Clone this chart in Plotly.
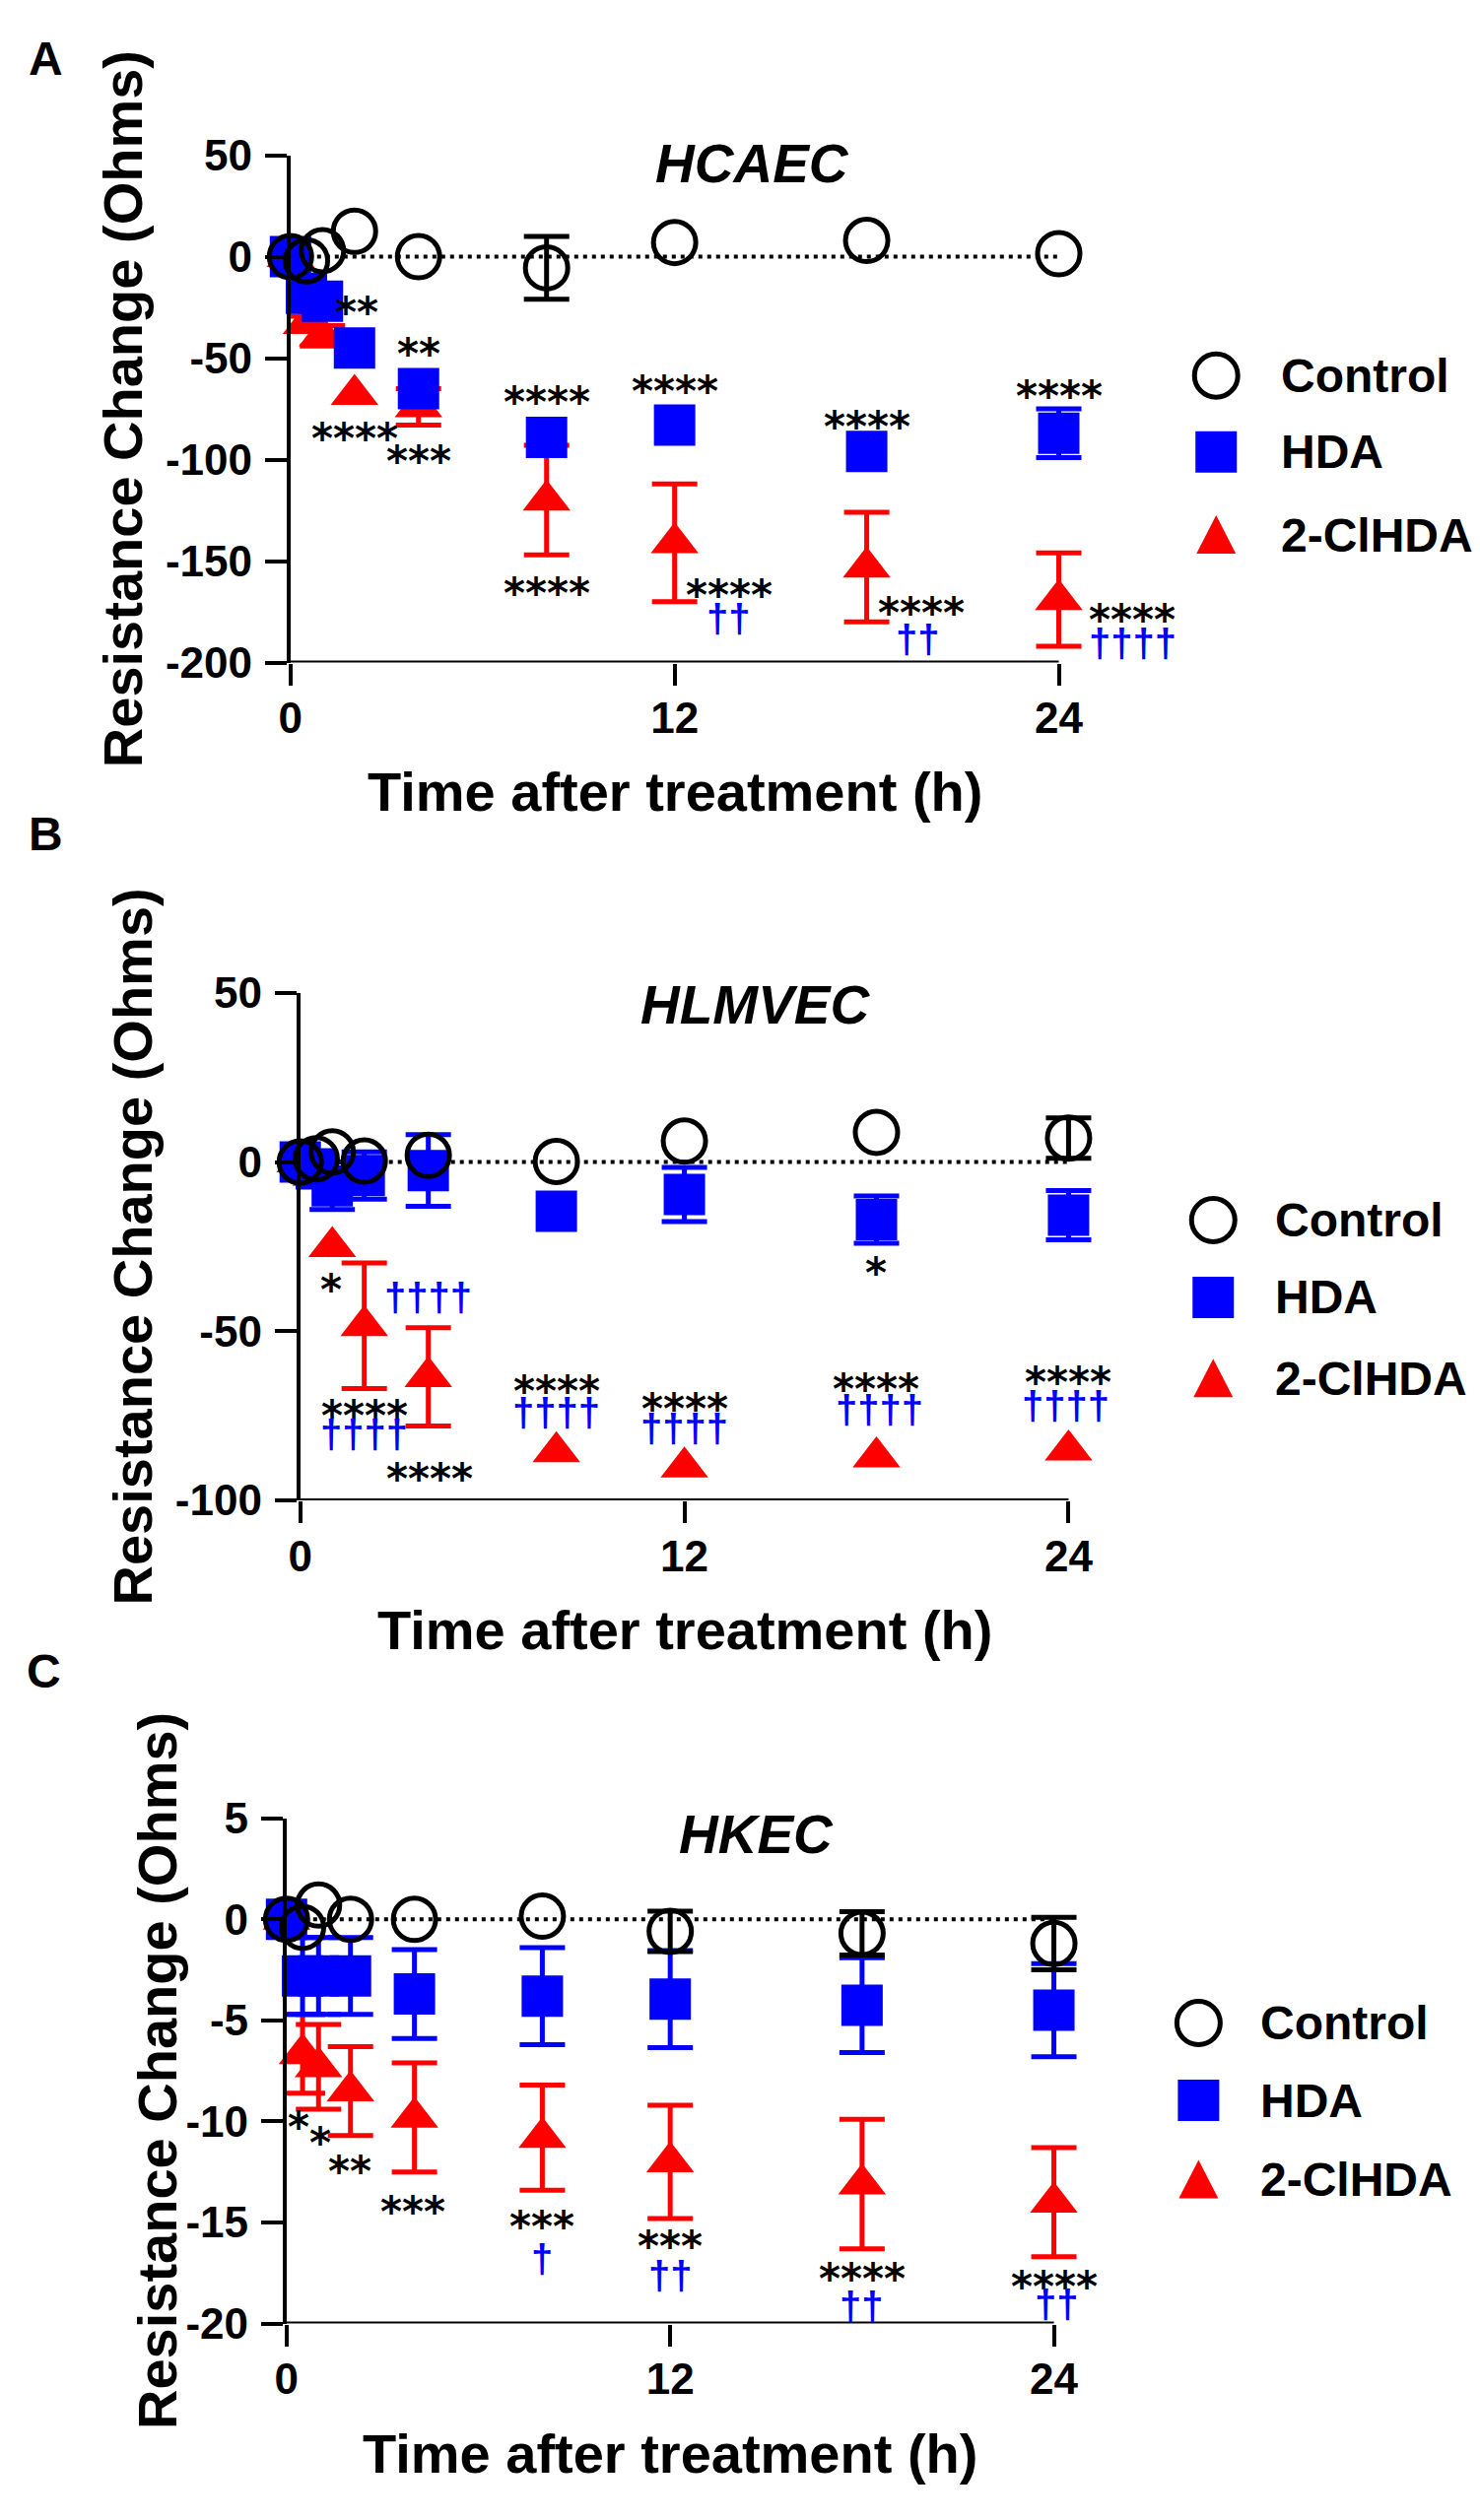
import plotly.graph_objects as go

W, H = 1502, 2558

times = [0, 0.5, 1, 2, 4, 8, 12, 18, 24]
x_ticks = [0, 12, 24]

# panel A - HCAEC
a_ctrl = [0, -2, 3, 12.5, 0, -5.5, 7, 8, 1.5]
a_ctrl_err = [0, 0, 0, 0, 0, 15.5, 0, 0, 0]
a_hda = [0, -18, -22, -45, -65, -89, -83, -96, -87]
a_hda_err = [0, 0, 0, 0, 0, 0, 0, 0, 12]
a_cl = [0, -33, -39, -68, -74, -120, -141, -153, -169]
a_cl_err = [0, 3.6, 5, 0, 9, 27, 29, 27, 23]
a_yticks = [50, 0, -50, -100, -150, -200]
a_stars = [(2.07, -24, "**"), (4, -44, "**"), (2, -86, "****"), (4, -97, "***"),
           (8, -68, "****"), (8, -162, "****"), (12, -62.5, "****"), (13.7, -163, "****"),
           (18, -80, "****"), (19.7, -172, "****"), (24, -65, "****"), (26.3, -175, "****")]
a_daggers = [(13.7, -180, "††"), (19.6, -190, "††"), (26.3, -192, "††††")]

# panel B - HLMVEC
b_ctrl = [0, 1, 3, 0.3, 2, 0.2, 6.2, 8.8, 7.1]
b_ctrl_err = [0, 0, 0, 0, 0, 0, 0, 0, 6]
b_hda = [0, -2, -7, -4, -2.5, -14.5, -9.6, -17, -15.7]
b_hda_err = [0, 0, 7, 7, 10.6, 0, 8, 7, 7.3]
b_cl = [0, -4, -25, -48.4, -63.5, -85.7, -90.2, -87.2, -85.2]
b_cl_err = [0, 3, 0, 18.6, 14.5, 0, 0, 0, 0]
b_yticks = [50, 0, -50, -100]
b_stars = [(0.97, -35.5, "*"), (2, -72.8, "****"), (4.05, -91.5, "****"), (8, -65.6, "****"),
           (12, -70.7, "****"), (18, -30.7, "*"), (18, -65, "****"), (24, -63, "****")]
b_daggers = [(4, -41, "††††"), (2, -81.5, "††††"), (8, -75, "††††"), (12, -79.5, "††††"),
             (18.1, -74, "††††"), (23.9, -73, "††††")]

# panel C - HKEC
c_ctrl = [0, -0.4, 0.7, 0, 0, 0.15, -0.6, -0.7, -1.2]
c_ctrl_err = [0, 0, 0, 0, 0, 0, 1.0, 1.07, 1.3]
c_hda = [0, -2.8, -2.8, -2.8, -3.7, -3.8, -3.95, -4.25, -4.5]
c_hda_err = [0, 1.9, 1.9, 1.9, 2.2, 2.4, 2.4, 2.35, 2.3]
c_cl = [0, -6.65, -7.3, -8.5, -9.8, -10.8, -12.0, -13.1, -14.0]
c_cl_err = [0, 1.95, 2.1, 2.2, 2.7, 2.6, 2.8, 3.2, 2.7]
c_yticks = [5, 0, -5, -10, -15, -20]
c_stars = [(0.38, -9.9, "*"), (1.05, -10.7, "*"), (1.98, -12.1, "**"), (3.95, -14.1, "***"),
           (8, -14.85, "***"), (12, -15.8, "***"), (18, -17.4, "****"), (24, -17.8, "****")]
c_daggers = [(8, -16.95, "†"), (12, -17.8, "††"), (18, -19.3, "††"), (24.1, -19.2, "††")]

series_names = ["Control", "HDA", "2-ClHDA"]

BLACK, BLUE, RED = "#000000", "#0000ff", "#ff0000"
FONT = "Liberation Sans"
X_END = 24      # where the drawn x axis stops
X_ROOM = 27.5   # range kept open to the right so the labels past 24 h still show


def fx(p):
    return p / W


def fy(p):
    return 1 - p / H


fig = go.Figure()

panels = [
    dict(letter="A", title="HCAEC", ctrl=(a_ctrl, a_ctrl_err), hda=(a_hda, a_hda_err), cl=(a_cl, a_cl_err),
         yticks=a_yticks, stars=a_stars, daggers=a_daggers,
         box=(277, 1063, 127, 652), letter_pos=(27, 27), title_pos=(749, 136), ytitle_x=105,
         legend=(1224, 1288, [355, 434, 520])),
    dict(letter="B", title="HLMVEC", ctrl=(b_ctrl, b_ctrl_err), hda=(b_hda, b_hda_err), cl=(b_cl, b_cl_err),
         yticks=b_yticks, stars=b_stars, daggers=b_daggers,
         box=(287, 1073, 994, 1519), letter_pos=(27, 829), title_pos=(753, 1006), ytitle_x=115,
         legend=(1221, 1282, [1229, 1309, 1393])),
    dict(letter="C", title="HKEC", ctrl=(c_ctrl, c_ctrl_err), hda=(c_hda, c_hda_err), cl=(c_cl, c_cl_err),
         yticks=c_yticks, stars=c_stars, daggers=c_daggers,
         box=(273, 1058, 1848, 2371), letter_pos=(25, 1696), title_pos=(754, 1865), ytitle_x=140,
         legend=(1206, 1267, [2060, 2140, 2222])),
]

annotations = []
shapes = []

for i, p in enumerate(panels):
    n = "" if i == 0 else str(i + 1)
    xa, ya = "x" + n, "y" + n
    x0, x1, y0, y1 = p["box"]
    x_right = x0 + (x1 - x0) * X_ROOM / X_END

    # red first, blue, then black circles on top
    styles = [
        (p["cl"], RED, dict(symbol="triangle-up", size=42, color=RED)),
        (p["hda"], BLUE, dict(symbol="square", size=42, color=BLUE)),
        (p["ctrl"], BLACK, dict(symbol="circle-open", size=43, color=BLACK, line=dict(width=5, color=BLACK))),
    ]
    for (vals, errs), col, mk in styles:
        pts = [(t, v, e) for t, v, e in zip(times, vals, errs) if e > 0]
        if pts:
            fig.add_trace(go.Scatter(
                x=[q[0] for q in pts], y=[q[1] for q in pts], mode="markers",
                marker=dict(size=1, opacity=0), xaxis=xa, yaxis=ya, cliponaxis=False,
                error_y=dict(type="data", array=[q[2] for q in pts], color=col, thickness=5, width=23),
                hoverinfo="skip"))
        fig.add_trace(go.Scatter(x=times, y=vals, mode="markers", marker=mk,
                                 xaxis=xa, yaxis=ya, cliponaxis=False))

    ymax, ymin = p["yticks"][0], p["yticks"][-1]
    tick_font = dict(family=FONT, size=44, color="black", weight="bold")
    common = dict(showgrid=False, zeroline=False, linecolor="black", linewidth=4,
                  ticks="outside", ticklen=22, tickwidth=4, tickcolor="black", tickfont=tick_font)
    fig.update_layout(**{
        "xaxis" + n: dict(domain=[fx(x0), fx(x_right)], range=[0, X_ROOM], tickvals=x_ticks,
                          ticktext=[str(v) for v in x_ticks], anchor=ya, ticklabelstandoff=-4,
                          showline=False, **common),
        "yaxis" + n: dict(domain=[fy(y1), fy(y0)], range=[ymin, ymax], tickvals=p["yticks"],
                          ticktext=[str(v) for v in p["yticks"]], anchor=xa, ticklabelstandoff=4,
                          showline=True, **common),
    })

    # x axis line only from 0 to 24 h
    shapes.append(dict(type="line", xref=xa, yref=ya, x0=0, x1=X_END, y0=ymin, y1=ymin,
                       line=dict(color="black", width=4), layer="above"))
    # dotted zero line
    shapes.append(dict(type="line", xref=xa, yref=ya, x0=0, x1=X_END, y0=0, y1=0,
                       line=dict(color="black", width=4, dash="4px,5px"), layer="below"))

    for t, v, s in p["stars"]:
        annotations.append(dict(x=t, y=v, xref=xa, yref=ya, text=s, showarrow=False, yshift=-8,
                                font=dict(family="DejaVu Sans", size=42, color="black", weight="bold")))
    for t, v, s in p["daggers"]:
        annotations.append(dict(x=t, y=v, xref=xa, yref=ya, text=s, showarrow=False, yshift=3,
                                font=dict(family=FONT, size=40, color=BLUE, weight="bold")))

    lx, ly = p["letter_pos"]
    annotations.append(dict(x=fx(lx), y=fy(ly), xref="paper", yref="paper", text=p["letter"],
                            showarrow=False, xanchor="center", yanchor="middle",
                            font=dict(family=FONT, size=48, color="black", weight="bold")))
    tx, ty = p["title_pos"]
    annotations.append(dict(x=fx(tx), y=fy(ty), xref="paper", yref="paper", text=p["title"],
                            showarrow=False, xanchor="center", yanchor="middle",
                            font=dict(family=FONT, size=55, color="black", weight="bold", style="italic")))
    annotations.append(dict(x=fx(p["ytitle_x"]), y=fy((y0 + y1) / 2), xref="paper", yref="paper",
                            text="Resistance Change (Ohms)", textangle=-90, showarrow=False,
                            xanchor="center", yanchor="middle",
                            font=dict(family=FONT, size=56, color="black", weight="bold")))
    annotations.append(dict(x=fx((x0 + x1) / 2), y=fy(y1 + 134), xref="paper", yref="paper",
                            text="Time after treatment (h)", showarrow=False,
                            xanchor="center", yanchor="middle",
                            font=dict(family=FONT, size=56, color="black", weight="bold")))

    # legend drawn by hand so the symbols can be as big as in the original
    mx, tx0, rows = p["legend"]
    shapes.append(dict(type="circle", xref="paper", yref="paper", xsizemode="pixel", ysizemode="pixel",
                       xanchor=fx(mx), yanchor=fy(rows[0]), x0=-22, x1=22, y0=-22, y1=22,
                       line=dict(color="black", width=5)))
    shapes.append(dict(type="rect", xref="paper", yref="paper", xsizemode="pixel", ysizemode="pixel",
                       xanchor=fx(mx), yanchor=fy(rows[1]), x0=-21, x1=21, y0=-21, y1=21,
                       fillcolor=BLUE, line=dict(width=0)))
    shapes.append(dict(type="path", xref="paper", yref="paper", xsizemode="pixel", ysizemode="pixel",
                       xanchor=fx(mx), yanchor=fy(rows[2]), path="M-20,-19 L20,-19 L0,20 Z",
                       fillcolor=RED, line=dict(width=0)))
    for name, ry in zip(series_names, rows):
        annotations.append(dict(x=fx(tx0), y=fy(ry), xref="paper", yref="paper", text=name,
                                showarrow=False, xanchor="left", yanchor="middle",
                                font=dict(family=FONT, size=48, color="black", weight="bold")))

fig.update_layout(width=W, height=H, margin=dict(l=0, r=0, t=0, b=0),
                  plot_bgcolor="white", paper_bgcolor="white", showlegend=False,
                  annotations=annotations, shapes=shapes)

fig.write_html("out.html")
